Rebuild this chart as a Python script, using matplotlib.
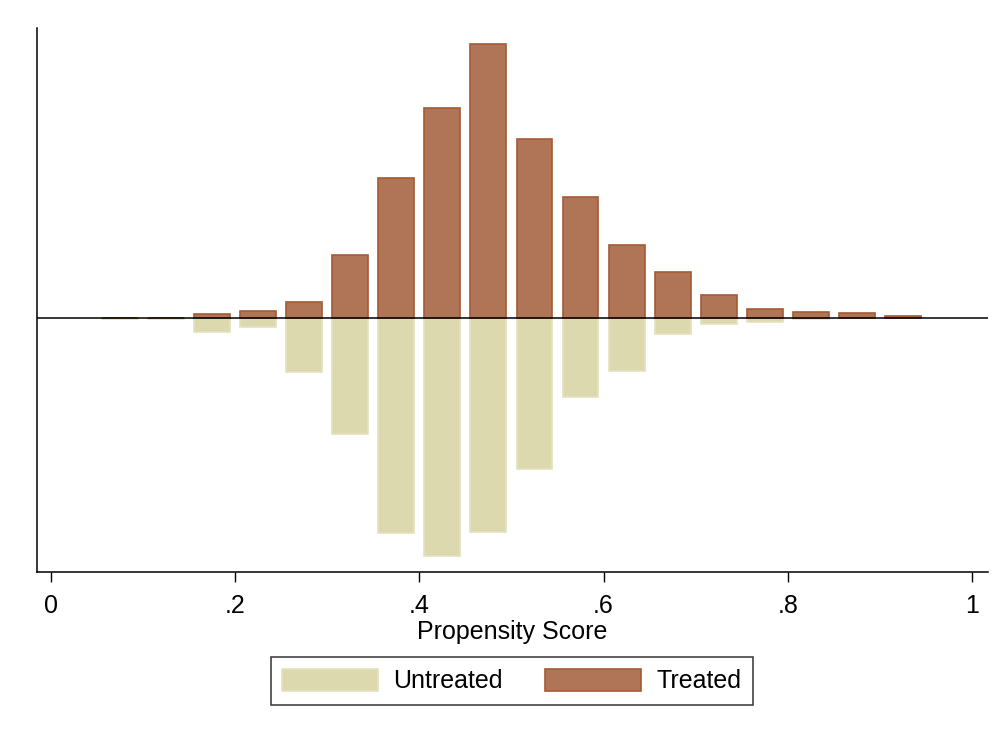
import matplotlib.pyplot as plt
import numpy as np

plt.rcParams['font.family'] = ['Liberation Sans', 'DejaVu Sans']

# bin centres (width .05)
bin_centres = [0.075, 0.125, 0.175, 0.225, 0.275, 0.325, 0.375, 0.425, 0.475,
               0.525, 0.575, 0.625, 0.675, 0.725, 0.775, 0.825, 0.875, 0.925]
# heights (arbitrary density units)
treated = [0.0, 0.3, 3.7, 6.7, 16, 63, 140, 210, 274,
           179, 121, 73, 46, 23, 9, 6, 5, 1.7]
untreated = [1.0, 1.0, 14, 9, 54, 116, 215, 238, 214,
             151, 79, 53, 16, 6, 4.5, 1.0, 0.0, 0.3]

xticks = [0, 0.2, 0.4, 0.6, 0.8, 1.0]
xtick_labels = ['0', '.2', '.4', '.6', '.8', '1']

treated_face = '#b07456'
treated_edge = '#a65a36'
untreated_face = '#dcd9ae'
untreated_edge = '#e4e1bf'

fig = plt.figure(figsize=(10.03, 7.36), dpi=100)
ax = fig.add_axes([0.0369, 0.2228, 0.9481, 0.7392])

bar_w = 0.039
b_u = ax.bar(bin_centres, -np.array(untreated), width=bar_w, color=untreated_face,
             edgecolor=untreated_edge, linewidth=1.2, label='Untreated')
b_t = ax.bar(bin_centres, treated, width=bar_w, color=treated_face,
             edgecolor=treated_edge, linewidth=1.2, label='Treated')

ax.axhline(0, color='black', linewidth=1.1, zorder=5)

ax.set_xlim(-0.0152, 1.0174)
ax.set_ylim(-254, 290)

ax.spines['top'].set_visible(False)
ax.spines['right'].set_visible(False)
ax.spines['left'].set_linewidth(1.1)
ax.spines['bottom'].set_linewidth(1.1)
ax.set_yticks([])

ax.set_xticks(xticks)
ax.set_xticklabels(xtick_labels, fontsize=18)
ax.tick_params(axis='x', length=7.5, width=1.0, pad=8)
ax.set_xlabel('Propensity Score', fontsize=18, labelpad=2)

leg = fig.legend(handles=[b_u, b_t], labels=['Untreated', 'Treated'],
                 loc='center', bbox_to_anchor=(0.51, 0.0747), ncol=2,
                 fontsize=18, frameon=True, fancybox=False, edgecolor='black',
                 handlelength=3.85, handleheight=1.0, handletextpad=0.6,
                 columnspacing=1.7, borderpad=0.45, borderaxespad=0)
leg.get_frame().set_linewidth(1.1)

fig.savefig('out.png', dpi=100)
